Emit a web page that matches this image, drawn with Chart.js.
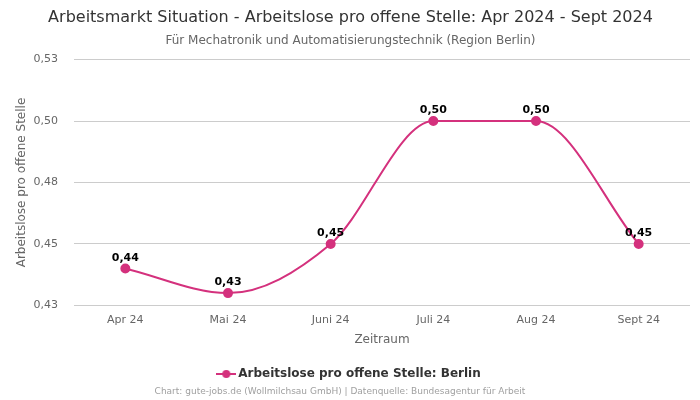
<!DOCTYPE html>
<html>
<head>
<meta charset="utf-8">
<script src="https://cdn.jsdelivr.net/npm/chart.js@4.4.1/dist/chart.umd.min.js"></script>
<style>
  html, body { margin: 0; padding: 0; background: #fff; }
  #wrap { width: 700px; height: 400px; }
</style>
</head>
<body>
<div id="wrap"><canvas id="chart"></canvas></div>
<script>
// data
var months = ["Apr 24", "Mai 24", "Juni 24", "Juli 24", "Aug 24", "Sept 24"];
var berlin = [0.44, 0.43, 0.45, 0.50, 0.50, 0.45];
var seriesName = "Arbeitslose pro offene Stelle: Berlin";
var yMin = 0.425, yMax = 0.525, yStep = 0.025;

var pink = "#d4317d";
Chart.defaults.font.family = "'DejaVu Sans', sans-serif";

// german number format, 2 decimals
function fmt(v) {
  return (Math.round(v * 100 + 1e-6) / 100).toFixed(2).replace(".", ",");
}

// legend symbol: short line with a dot
var sym = document.createElement("canvas");
sym.width = 20; sym.height = 10;
var sc = sym.getContext("2d");
sc.strokeStyle = pink; sc.lineWidth = 2;
sc.beginPath(); sc.moveTo(0, 5); sc.lineTo(20, 5); sc.stroke();
sc.fillStyle = pink;
sc.beginPath(); sc.arc(10, 5, 4, 0, Math.PI * 2); sc.fill();

// value labels above points
var valueLabels = {
  id: "valueLabels",
  afterDatasetsDraw: function(chart) {
    var ctx = chart.ctx;
    var meta = chart.getDatasetMeta(0);
    ctx.save();
    ctx.font = "bold 11px 'DejaVu Sans', sans-serif";
    ctx.fillStyle = "#000";
    ctx.textAlign = "center";
    ctx.textBaseline = "bottom";
    meta.data.forEach(function(pt, i) {
      ctx.fillText(fmt(berlin[i]), pt.x, pt.y - 5);
    });
    ctx.restore();
  }
};

// source line at the bottom
var footer = {
  id: "footer",
  afterDraw: function(chart) {
    var ctx = chart.ctx;
    ctx.save();
    ctx.font = "9px 'DejaVu Sans', sans-serif";
    ctx.fillStyle = "#a0a0a0";
    ctx.textAlign = "center";
    ctx.textBaseline = "middle";
    ctx.fillText("Chart: gute-jobs.de (Wollmilchsau GmbH) | Datenquelle: Bundesagentur für Arbeit", 340, 392);
    ctx.restore();
  }
};

new Chart(document.getElementById("chart"), {
  type: "line",
  data: {
    labels: months,
    datasets: [{
      label: seriesName,
      data: berlin,
      borderColor: pink,
      backgroundColor: pink,
      borderWidth: 2,
      pointRadius: 4,
      pointHoverRadius: 4,
      cubicInterpolationMode: "monotone",
      fill: false
    }]
  },
  options: {
    responsive: true,
    maintainAspectRatio: false,
    animation: false,
    layout: { padding: { left: 11, right: 10, top: 0, bottom: 10 } },
    plugins: {
      title: {
        display: true,
        text: "Arbeitsmarkt Situation - Arbeitslose pro offene Stelle: Apr 2024 - Sept 2024",
        color: "#333",
        font: { size: 16, weight: "normal" },
        padding: { top: 8, bottom: 6 }
      },
      subtitle: {
        display: true,
        text: "Für Mechatronik und Automatisierungstechnik (Region Berlin)",
        color: "#666",
        font: { size: 12 },
        padding: { bottom: 12 }
      },
      legend: {
        position: "bottom",
        labels: {
          color: "#333",
          font: { size: 12, weight: "bold" },
          usePointStyle: true,
          padding: 10,
          generateLabels: function(chart) {
            return [{
              text: seriesName,
              pointStyle: sym,
              fillStyle: pink,
              strokeStyle: pink,
              fontColor: "#333",
              datasetIndex: 0
            }];
          }
        }
      },
      tooltip: { enabled: false }
    },
    scales: {
      x: {
        offset: true,
        grid: { display: false },
        border: { display: false },
        ticks: { color: "#666", font: { size: 11 }, padding: 0 },
        title: { display: true, text: "Zeitraum", color: "#666", font: { size: 12 }, padding: { top: 6, bottom: 11 } }
      },
      y: {
        min: yMin,
        max: yMax,
        grid: { color: "#cccccc", drawTicks: false },
        border: { display: false },
        ticks: {
          stepSize: yStep,
          color: "#666",
          font: { size: 11 },
          padding: 16,
          callback: function(v) { return fmt(v); }
        },
        title: { display: true, text: "Arbeitslose pro offene Stelle", color: "#666", font: { size: 12 }, padding: { top: 4, bottom: 4 } },
        afterFit: function(scale) { scale.width = 63; }
      }
    }
  },
  plugins: [valueLabels, footer]
});
</script>
</body>
</html>
